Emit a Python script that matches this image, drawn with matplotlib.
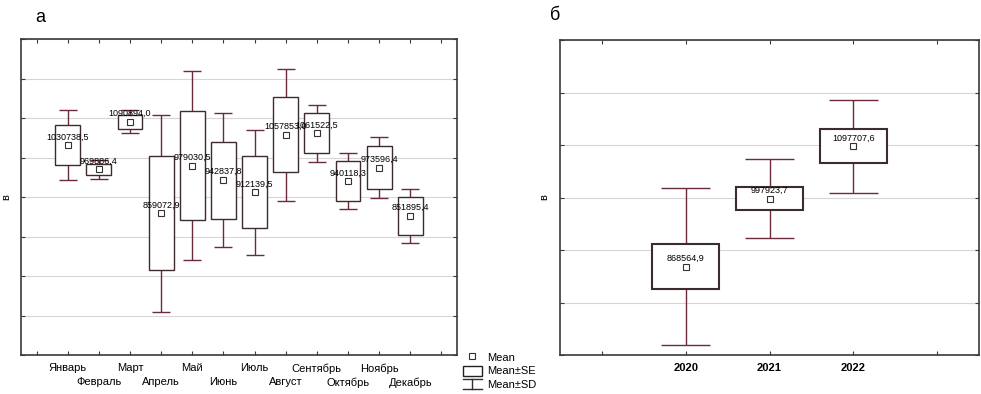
import matplotlib
matplotlib.use('Agg')
import matplotlib.pyplot as plt
from matplotlib.patches import Rectangle
from matplotlib.lines import Line2D
from matplotlib.legend_handler import HandlerBase

plt.rcParams['font.family'] = ['Liberation Sans', 'DejaVu Sans']

# data (a): monthly mean, standard error, standard deviation
months = ['Январь', 'Февраль', 'Март', 'Апрель', 'Май', 'Июнь',
          'Июль', 'Август', 'Сентябрь', 'Октябрь', 'Ноябрь', 'Декабрь']
month_mean = [1030738.5, 969886.4, 1090894.0, 859072.9, 979030.5, 942837.8,
              912139.5, 1057853.0, 1061522.5, 940118.3, 973596.4, 851895.4]
month_se = [50600, 13900, 17700, 144300, 137950, 97500,
            91150, 94950, 50650, 50600, 54400, 46850]
month_sd = [88600, 24300, 28900, 249300, 239250, 169650,
            158150, 167100, 72250, 70900, 77250, 68350]

# data (b): yearly
years = ['2020', '2021', '2022']
year_mean = [868564.9, 997923.7, 1097707.6]
year_se = [42850, 21900, 32400]
year_sd = [148650, 75250, 88600]

box_edge = '#3e2c2c'
whisk_col = '#6b2b38'
grid_col = '#d6d6d6'
spine_col = '#3a3a3a'


def draw_boxes(ax, means, ses, sds, box_lw, fs):
    for i, (m, se, sd) in enumerate(zip(means, ses, sds)):
        x = i + 1
        ax.vlines(x, m - sd, m + sd, color=whisk_col, lw=1, zorder=2)
        ax.hlines([m - sd, m + sd], x - 0.29, x + 0.29, color=whisk_col, lw=1, zorder=2)
        ax.add_patch(Rectangle((x - 0.4, m - se), 0.8, 2 * se, facecolor='white',
                               edgecolor=box_edge, lw=box_lw, zorder=3))
        ax.plot(x, m, 's', ms=4, mfc='white', mec='#333333', mew=0.8, zorder=5)
        label = f'{m:.1f}'.replace('.', ',')
        ax.annotate(label, (x, m), xytext=(0, 6), textcoords='offset points',
                    ha='center', va='center', fontsize=fs, zorder=6)


def style_axes(ax):
    for s in ax.spines.values():
        s.set_color(spine_col)
        s.set_linewidth(1.2)
    ax.yaxis.grid(True, color=grid_col, lw=0.8)
    ax.set_axisbelow(True)
    ax.tick_params(direction='in', top=True, right=True, length=3,
                   color=spine_col, labelleft=False, pad=6)


fig = plt.figure(figsize=(9.81, 3.94), dpi=100)

# panel a
ax1 = fig.add_axes([21 / 981, 39 / 394, 436 / 981, 316 / 394])
style_axes(ax1)
draw_boxes(ax1, month_mean, month_se, month_sd, 1.0, 6.5)
ax1.set_xlim(-0.5, 13.5)
ax1.set_ylim(500000, 1300000)
ax1.set_yticks(range(500000, 1300001, 100000))
ax1.set_xticks(range(14))
xlabels = [''] + [m if i % 2 == 0 else '\n' + m for i, m in enumerate(months)] + ['']
ax1.set_xticklabels(xlabels, fontsize=8, linespacing=1.45)
ax1.set_ylabel('в', fontsize=8)
ax1.yaxis.set_label_coords(-0.022, 0.5)

# panel b
ax2 = fig.add_axes([560 / 981, 39 / 394, 419 / 981, 315 / 394])
style_axes(ax2)
draw_boxes(ax2, year_mean, year_se, year_sd, 1.5, 6.5)
ax2.set_xlim(-0.5, 4.5)
ax2.set_ylim(700000, 1300000)
ax2.set_yticks(range(700000, 1300001, 100000))
ax2.set_xticks(range(5))
ax2.set_xticklabels([''] + years + [''], fontsize=8, fontweight='bold')
ax2.set_ylabel('в', fontsize=8)
ax2.yaxis.set_label_coords(-0.025, 0.5)

fig.text(40 / 981, 1 - 17 / 394, 'а', fontsize=13, ha='center', va='center')
fig.text(555 / 981, 1 - 15 / 394, 'б', fontsize=13, ha='center', va='center')


# legend
class HandlerWhisker(HandlerBase):
    def create_artists(self, legend, orig_handle, xdescent, ydescent,
                       width, height, fontsize, trans):
        cx = width / 2 - xdescent
        y0, y1 = -ydescent, height - ydescent
        return [Line2D([cx, cx], [y0, y1], color='#3a2a2a', lw=1, transform=trans),
                Line2D([0, width], [y0, y0], color='#3a2a2a', lw=1, transform=trans),
                Line2D([0, width], [y1, y1], color='#3a2a2a', lw=1, transform=trans)]


class HandlerBox(HandlerBase):
    def create_artists(self, legend, orig_handle, xdescent, ydescent,
                       width, height, fontsize, trans):
        return [Rectangle((-xdescent, -ydescent), width, height, facecolor='white',
                          edgecolor='#222222', lw=1, transform=trans)]


h_mean = Line2D([], [], ls='none', marker='s', ms=4, mfc='white', mec='#333333', mew=0.8)
h_se = Rectangle((0, 0), 1, 1)
h_sd = Line2D([], [])
fig.legend([h_mean, h_se, h_sd], ['Mean', 'Mean±SE', 'Mean±SD'],
           handler_map={h_se: HandlerBox(), h_sd: HandlerWhisker()},
           loc='upper left', bbox_to_anchor=(463 / 981, 1 - 352 / 394),
           frameon=False, fontsize=8, handlelength=1.7, handleheight=1.0,
           handletextpad=0.45, labelspacing=0.25, borderpad=0, borderaxespad=0)

fig.savefig('out.png', dpi=100)
